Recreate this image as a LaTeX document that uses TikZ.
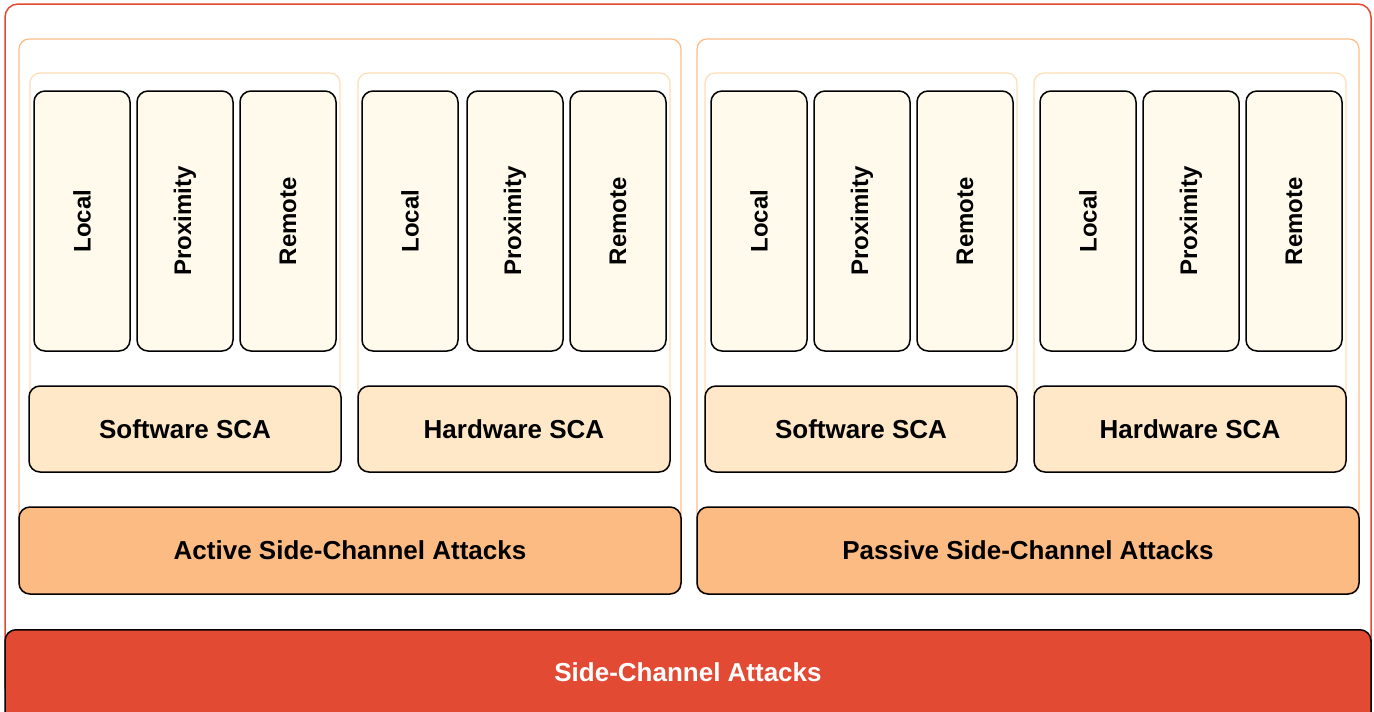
\documentclass[tikz,border=0pt]{standalone}
\usepackage{fontspec}
\setmainfont{Liberation Sans}
\definecolor{scared}{HTML}{E34A33}
\definecolor{scaorange}{HTML}{FDBB84}
\definecolor{scalight}{HTML}{FEE8C8}
\definecolor{scacream}{HTML}{FFFAEB}
\definecolor{scagroupline}{HTML}{FDDDB6}
\tikzset{
  box/.style={draw=black, line width=1.5pt, rounded corners=11pt, inner sep=0pt, font=\bfseries\fontsize{26}{30}\selectfont},
  leaf/.style={box, fill=scacream, minimum width=96pt, minimum height=260pt, font=\bfseries\fontsize{24}{28}\selectfont},
  leaftext/.style={rotate=90, font=\bfseries\fontsize{24}{28}\selectfont},
  groupbox/.style={box, fill=scalight, minimum height=86pt},
  barbox/.style={box, fill=scaorange, minimum width=662pt, minimum height=87pt},
  groupframe/.style={draw=scagroupline, line width=1.2pt, rounded corners=10pt, inner sep=0pt, minimum height=399pt},
  catframe/.style={draw=scaorange, line width=1.2pt, rounded corners=10pt, inner sep=0pt, minimum width=662pt, minimum height=555pt},
}
\begin{document}
\begin{tikzpicture}[x=1pt,y=-1pt]
\useasboundingbox (0,0) rectangle (1374,712);
% outer frame
\draw[scared, line width=1.5pt, rounded corners=13pt] (5,4) rectangle (1371,700);
% category frames
\node[catframe] (actframe) at (350,316.5) {};
\node[catframe] (pasframe) at (1028,316.5) {};
% group frames
\node[groupframe, minimum width=310pt] (g1) at (185,272.5) {};
\node[groupframe, minimum width=312pt] (g2) at (514,272.5) {};
\node[groupframe, minimum width=312pt] (g3) at (861,272.5) {};
\node[groupframe, minimum width=312pt] (g4) at (1190,272.5) {};
% leaves
\foreach \nm/\xx/\lab in {a1/82/Local, a2/185/Proximity, a3/288/Remote,
  b1/410/Local, b2/515/Proximity, b3/618/Remote,
  c1/759/Local, c2/862/Proximity, c3/965/Remote,
  d1/1088/Local, d2/1191/Proximity, d3/1294/Remote}{
  \node[leaf] (\nm) at (\xx,221) {};
  \node[leaftext] at (\nm.center) {\lab};
}
% group boxes
\node[groupbox, minimum width=312pt] (sw1) at (185,429) {Software SCA};
\node[groupbox, minimum width=312pt] (hw1) at (514,429) {Hardware SCA};
\node[groupbox, minimum width=312pt] (sw2) at (861,429) {Software SCA};
\node[groupbox, minimum width=312pt] (hw2) at (1190,429) {Hardware SCA};
% bars
\node[barbox] (active) at (350,550.5) {Active Side-Channel Attacks};
\node[barbox] (passive) at (1028,550.5) {Passive Side-Channel Attacks};
% root bar
\node[box, fill=scared, text=white, minimum width=1366pt, minimum height=95pt, anchor=north] (root) at (688,629) {};
\node[font=\bfseries\fontsize{26}{30}\selectfont, text=white] (roottext) at (688,672) {Side-Channel Attacks};
\end{tikzpicture}
\end{document}
